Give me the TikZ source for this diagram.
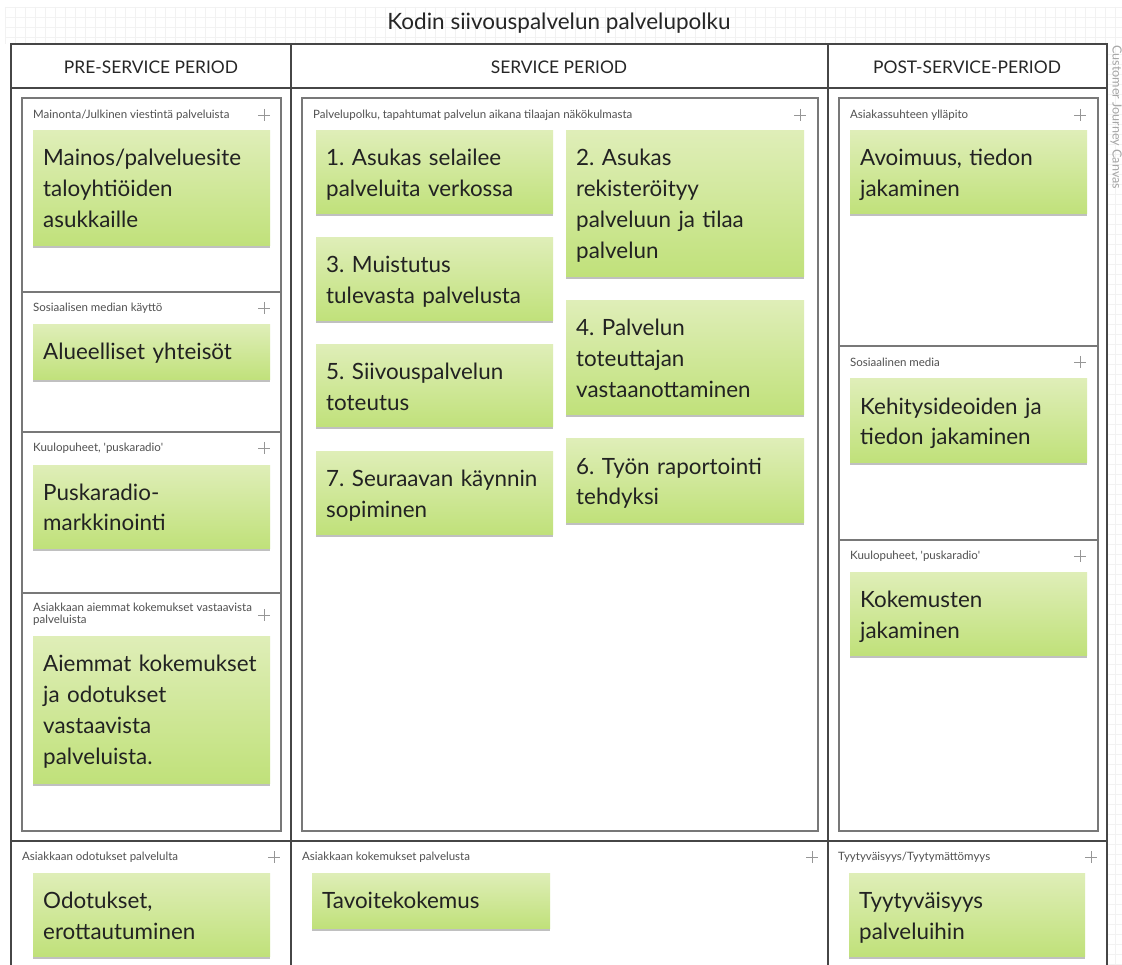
\documentclass[tikz,border=0pt]{standalone}
\usepackage{fontspec}
\setmainfont{Lato}
\frenchspacing
\usetikzlibrary{shadows,calc}
\definecolor{ntop}{RGB}{223,238,184}
\definecolor{nbot}{RGB}{192,225,122}
\definecolor{notetxt}{RGB}{34,34,34}
\definecolor{lblgray}{RGB}{80,80,80}
\definecolor{tblline}{RGB}{70,70,70}
\definecolor{boxline}{RGB}{120,120,120}
\definecolor{gridc}{RGB}{242,242,242}
\definecolor{plusc}{RGB}{150,150,150}
\tikzset{
  notebox/.style={draw=none, top color=ntop, bottom color=nbot, inner sep=0pt, outer sep=0pt,
    drop shadow={opacity=0.35, shadow xshift=0pt, shadow yshift=-2.5pt, fill=black!70}},
  notetext/.style={anchor=base west, text width=232pt, align=left, inner sep=0pt,
    font=\fontsize{22.4}{31}\selectfont, text=notetxt},
  lbl/.style={anchor=west, inner sep=0pt, font=\fontsize{11.5}{13}\selectfont, text=lblgray},
  plusline/.style={draw=plusc, line width=0.8pt},
  tbl/.style={draw=tblline, line width=1.1pt},
  inbox/.style={draw=boxline, line width=1.2pt},
  hdr/.style={inner sep=0pt, font=\fontsize{17.4}{20}\selectfont, text=black!85},
}
\newcommand{\stick}[6]{%
  \node[notebox, anchor=north west, minimum width=#3pt, minimum height=#4pt] (#5) at (#1,#2) {};
  \node[notetext] (#5t) at ($(#5.north west)+(10,35)$) {#6};
}
\newcommand{\plusmark}[2]{%
  \draw[plusline] (#1-6,#2) -- (#1+6,#2) (#1,#2-6) -- (#1,#2+6);
}
\begin{document}
\begin{tikzpicture}[x=1pt,y=-1pt]
\useasboundingbox (0,0) rectangle (1122,965);
\fill[white] (0,0) rectangle (1122,965);
% faint grid background
\foreach \gy in {7,17,27,37} \draw[gridc, line width=0.6pt] (5,\gy) -- (1122,\gy);
\foreach \gx in {5,15,...,1115} \draw[gridc, line width=0.6pt] (\gx,7) -- (\gx,44);
\foreach \gy in {54,64,...,964} \draw[gridc, line width=0.6pt] (1108,\gy) -- (1122,\gy);
\foreach \gx in {1115} \draw[gridc, line width=0.6pt] (\gx,44) -- (\gx,965);

% title
\node[inner sep=0pt, font=\fontsize{22.5}{25}\selectfont, text=black!85] (title) at (559,23) {Kodin siivouspalvelun palvelupolku};

% table
\fill[white] (11,44) rectangle (1107,965);
\draw[tbl] (11,965) -- (11,44) -- (1107,44) -- (1107,965);
\draw[tbl] (11,88) -- (1107,88);
\draw[tbl] (291,44) -- (291,965);
\draw[tbl] (828,44) -- (828,965);
\draw[tbl] (11,841) -- (1107,841);

\node[hdr] (h1) at (151,67) {PRE-SERVICE PERIOD};
\node[hdr] (h2) at (559,67) {SERVICE PERIOD};
\node[hdr] (h3) at (967,67) {POST-SERVICE-PERIOD};

\node[rotate=-90, anchor=west, inner sep=0pt, font=\fontsize{12.6}{14}\selectfont, text=black!35] (cjc) at (1116,45) {Customer Journey Canvas};

% inner boxes
\draw[inbox] (22,98) rectangle (281,831);
\draw[inbox] (22,292) -- (281,292);
\draw[inbox] (22,432) -- (281,432);
\draw[inbox] (22,593) -- (281,593);
\draw[inbox] (302,98) rectangle (818,831);
\draw[inbox] (839,98) rectangle (1098,831);
\draw[inbox] (839,346) -- (1098,346);
\draw[inbox] (839,540) -- (1098,540);

% section labels
\node[lbl] (l1) at (33,115) {Mainonta/Julkinen viestintä palveluista};
\plusmark{264}{115}
\node[lbl] (l2) at (33,308) {Sosiaalisen median käyttö};
\plusmark{264}{308}
\node[lbl] (l3) at (33,448) {Kuulopuheet, \textquotesingle puskaradio\textquotesingle};
\plusmark{264}{448}
\node[lbl, anchor=north west, align=left, font=\fontsize{11.5}{11.5}\selectfont] (l4) at (33,603) {Asiakkaan aiemmat kokemukset vastaavista\\palveluista};
\plusmark{264}{615}
\node[lbl] (m1) at (313,115) {Palvelupolku, tapahtumat palvelun aikana tilaajan näkökulmasta};
\plusmark{800}{115}
\node[lbl] (r1) at (850,115) {Asiakassuhteen ylläpito};
\plusmark{1080}{115}
\node[lbl] (r2) at (850,362) {Sosiaalinen media};
\plusmark{1080}{362}
\node[lbl] (r3) at (850,556) {Kuulopuheet, \textquotesingle puskaradio\textquotesingle};
\plusmark{1080}{556}
\node[lbl] (b1) at (22,857) {Asiakkaan odotukset palvelulta};
\plusmark{274}{857}
\node[lbl] (b2) at (302,857) {Asiakkaan kokemukset palvelusta};
\plusmark{812}{857}
\node[lbl] (b3) at (838,857) {Tyytyväisyys/Tyytymättömyys};
\plusmark{1091}{857}

% sticky notes
\stick{33}{131}{237}{115}{nL1}{Mainos/palveluesite\\taloyhtiöiden\\asukkaille}
\stick{33}{325}{237}{55}{nL2}{Alueelliset yhteisöt}
\stick{33}{465}{237}{83}{nL3}{Puskaradio-\\markkinointi}
\stick{33}{636}{237}{147}{nL4}{Aiemmat kokemukset\\ja odotukset\\vastaavista\\palveluista.}
\stick{33}{873}{237}{83}{nLB}{Odotukset,\\erottautuminen}

\stick{316}{131}{237}{83}{nM1}{1. Asukas selailee\\palveluita verkossa}
\stick{566}{131}{238}{146}{nM2}{2. Asukas\\rekisteröityy\\palveluun ja tilaa\\palvelun}
\stick{316}{238}{237}{83}{nM3}{3. Muistutus\\tulevasta palvelusta}
\stick{566}{301}{238}{114}{nM4}{4. Palvelun\\toteuttajan\\vastaanottaminen}
\stick{316}{345}{237}{82}{nM5}{5. Siivouspalvelun\\toteutus}
\stick{566}{439}{238}{83}{nM6}{6. Työn raportointi\\tehdyksi}
\stick{316}{451}{237}{83}{nM7}{7. Seuraavan käynnin\\sopiminen}
\stick{312}{873}{238}{55}{nMB}{Tavoitekokemus}

\stick{850}{131}{237}{83}{nR1}{Avoimuus, tiedon\\jakaminen}
\stick{850}{379}{237}{83}{nR2}{Kehitysideoiden ja\\tiedon jakaminen}
\stick{850}{572}{237}{83}{nR3}{Kokemusten\\jakaminen}
\stick{849}{873}{236}{83}{nRB}{Tyytyväisyys\\palveluihin}
\end{tikzpicture}
\end{document}
